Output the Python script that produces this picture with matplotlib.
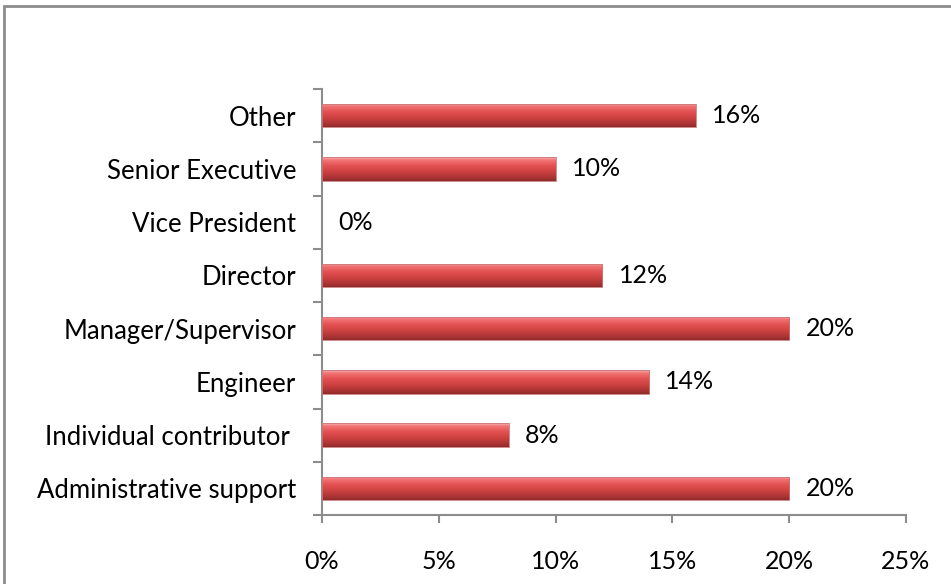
import numpy as np
import matplotlib.pyplot as plt
from matplotlib.colors import LinearSegmentedColormap
from matplotlib.patches import Rectangle

plt.rcParams['font.family'] = ['Lato', 'DejaVu Sans']

roles = ["Administrative support", "Individual contributor ", "Engineer",
         "Manager/Supervisor", "Director", "Vice President",
         "Senior Executive", "Other"]
shares = [20, 8, 14, 20, 12, 0, 10, 16]
xticks = [0, 5, 10, 15, 20, 25]

# vertical shading of the bars, light on top, dark at the bottom
barShade = LinearSegmentedColormap.from_list(
    "barShade",
    [(0.0, "#f8b6b6"), (0.12, "#f27474"), (0.35, "#e45252"),
     (0.6, "#cf4242"), (0.85, "#ad3434"), (1.0, "#902c2c")])

fig = plt.figure(figsize=(9.51, 5.84), dpi=100)
ax = fig.add_axes([322 / 951, 1 - 515 / 584, 584 / 951, 426 / 584])

ypos = np.arange(len(roles))
bars = ax.barh(ypos, shares, height=0.44, color="#d04545", zorder=2)

grad = np.linspace(0, 1, 64).reshape(-1, 1)
for b in bars:
    if b.get_width() <= 0:
        continue
    x0, y0 = b.get_x(), b.get_y()
    w, h = b.get_width(), b.get_height()
    im = ax.imshow(grad, cmap=barShade, aspect="auto", origin="upper",
                   extent=[x0, x0 + w, y0, y0 + h], zorder=3)
    im.set_clip_path(b)
    ax.add_patch(Rectangle((x0, y0), w, h, fill=False, edgecolor="#c87878",
                           linewidth=0.6, zorder=4))

for y, v in zip(ypos, shares):
    ax.text(v + 0.7, y, f"{v}%", va="center", ha="left", fontsize=18,
            color="black")

ax.set_xlim(0, 25)
ax.set_ylim(-0.5, len(roles) - 0.5)
ax.set_xticks(xticks)
ax.set_xticklabels([f"{t}%" for t in xticks])
ax.set_yticks(ypos)
ax.set_yticklabels(roles)
ax.set_yticks(np.arange(len(roles) + 1) - 0.5, minor=True)

for s in ["top", "right"]:
    ax.spines[s].set_visible(False)
for s in ["left", "bottom"]:
    ax.spines[s].set_color("#8c8c8c")
    ax.spines[s].set_linewidth(1.5)

ax.tick_params(axis="y", which="major", length=0, pad=18.5, labelsize=18.5)
ax.tick_params(axis="y", which="minor", length=6.5, width=1.5, color="#8c8c8c")
ax.tick_params(axis="x", which="major", length=5.8, width=1.5, color="#8c8c8c",
               pad=19.5, labelsize=18)

# outer chart border, cut off on the right and bottom
fig.patches.append(Rectangle((4 / 951, -0.1), 1.2, 1 - 6 / 584 + 0.1,
                             transform=fig.transFigure, fill=False,
                             edgecolor="#8c8c8c", linewidth=2))

fig.savefig("out.png", dpi=100)
